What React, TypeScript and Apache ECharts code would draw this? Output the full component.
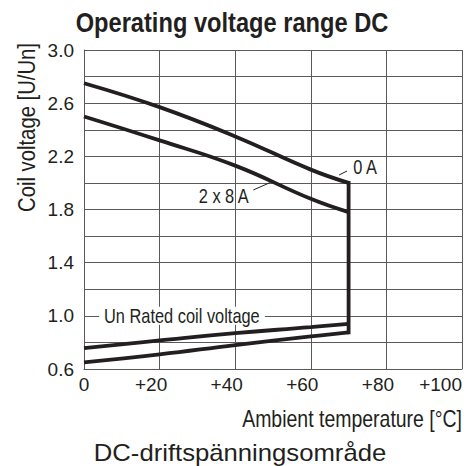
import React, { useEffect, useRef } from 'react';
import * as echarts from 'echarts';

// Ambient temperature [°C] sample points
const temperatures = [0, 20, 40, 60, 70];
// Upper limit of coil voltage, no load (0 A)
const upperLimit0A = [2.75, 2.57, 2.35, 2.1, 2.0];
// Upper limit of coil voltage, 2 x 8 A
const upperLimit2x8A = [2.5, 2.32, 2.13, 1.88, 1.78];
// Lower (pick-up) limits
const pickUpUpper = [0.757, 0.815, 0.87, 0.915, 0.94];
const pickUpLower = [0.65, 0.71, 0.78, 0.845, 0.875];
// Maximum ambient temperature (vertical limit)
const maxTemperature = 70;
// Tick labels
const xTicks = [0, 20, 40, 60, 80, 100];
const yTicks = [0.6, 1.0, 1.4, 1.8, 2.2, 2.6, 3.0];

const title = 'Operating voltage range DC';
const yName = 'Coil voltage [U/Un]';
const xName = 'Ambient temperature [°C]';
const caption = 'DC-driftspänningsområde';
const label0A = '0 A';
const label2x8A = '2 x 8 A';
const labelRated = 'Un Rated coil voltage';

const SANS = "'Liberation Sans', Arial, sans-serif";
const INK = '#231f20';
const GRID = '#5a5a5a';
const NARROW_SCALE = 0.82;

export default function App() {
  const ref = useRef<HTMLDivElement>(null);

  useEffect(() => {
    document.body.style.margin = '0';
    if (!ref.current) return;
    const chart = echarts.init(ref.current, null, { renderer: 'svg' });

    const curve = { type: 'line', symbol: 'none', smooth: 0.45, z: 5 };
    const stroke = { color: INK, width: 3.8 };

    chart.setOption({
      animation: false,
      backgroundColor: '#fff',
      grid: { left: 84, right: 7, top: 50, bottom: 97 },
      xAxis: {
        type: 'value',
        min: xTicks[0],
        max: xTicks[xTicks.length - 1],
        interval: 20,
        axisLine: { show: true, lineStyle: { color: GRID, width: 1 } },
        axisTick: { show: false },
        splitLine: { show: true, lineStyle: { color: GRID, width: 1 } },
        axisLabel: {
          margin: 6,
          alignMinLabel: 'center',
          alignMaxLabel: 'right',
          formatter: (v: number) => {
            if (!xTicks.includes(v)) return '';
            if (v === 0) return '{t|0}';
            if (v === xTicks[xTicks.length - 1]) return `{t|+${v}}`;
            return `{t|+${v}}{s|\u00a0}`;
          },
          rich: {
            t: { fontSize: 19, fontFamily: SANS, color: INK },
            s: { width: 17, fontSize: 19 },
          },
        },
      },
      yAxis: {
        type: 'value',
        min: 0.6,
        max: 3.0,
        interval: 0.2,
        axisLine: { show: true, lineStyle: { color: GRID, width: 1 } },
        axisTick: { show: false },
        splitLine: { show: true, lineStyle: { color: GRID, width: 1 } },
        axisLabel: {
          margin: 10,
          fontSize: 19,
          fontFamily: SANS,
          color: INK,
          formatter: (v: number) => {
            const r = Math.round(v * 10);
            return yTicks.some((t) => Math.round(t * 10) === r) ? v.toFixed(1) : '';
          },
        },
      },
      series: [
        {
          ...curve,
          name: '0 A',
          data: temperatures.map((t, i) => [t, upperLimit0A[i]]),
          lineStyle: stroke,
        },
        {
          type: 'line',
          name: 'limit',
          symbol: 'none',
          z: 6,
          data: [
            [maxTemperature, upperLimit0A[upperLimit0A.length - 1]],
            [maxTemperature, pickUpLower[pickUpLower.length - 1]],
          ],
          lineStyle: { ...stroke, cap: 'square' },
        },
        {
          ...curve,
          name: '2 x 8 A',
          data: temperatures.map((t, i) => [t, upperLimit2x8A[i]]),
          lineStyle: stroke,
        },
        {
          ...curve,
          name: 'pick-up upper',
          data: temperatures.map((t, i) => [t, pickUpUpper[i]]),
          lineStyle: stroke,
        },
        {
          ...curve,
          name: 'pick-up lower',
          data: temperatures.map((t, i) => [t, pickUpLower[i]]),
          lineStyle: stroke,
        },
      ],
    });

    const px = (x: number, y: number) => chart.convertToPixel({ gridIndex: 0 }, [x, y]) as number[];
    const a1 = px(67.5, 2.06);
    const a2 = px(69.6, 2.09);
    const t0 = px(71.2, 2.12);
    const b1 = px(44.8, 1.947);
    const b2 = px(49.2, 2.002);
    const t8 = px(43.6, 1.9);
    const tr = px(4.0, 1.0);

    const txt = (text: string, x: number, y: number, extra: any = {}, scaleX = NARROW_SCALE) => ({
      type: 'text',
      x,
      y,
      scaleX,
      z: 100,
      style: {
        text,
        fontSize: 20,
        fontFamily: SANS,
        fill: INK,
        align: 'left',
        verticalAlign: 'middle',
        ...extra,
      },
    });

    chart.setOption({
      graphic: [
        txt(title, 232, 22, { fontSize: 27, fontWeight: 'bold', align: 'center' }, 0.876),
        {
          type: 'text',
          x: 27,
          y: 127.5,
          rotation: Math.PI / 2,
          scaleX: 0.845,
          z: 100,
          style: {
            text: yName,
            fontSize: 24,
            fontFamily: SANS,
            fill: INK,
            align: 'center',
            verticalAlign: 'middle',
          },
        },
        txt(xName, 462, 419, { fontSize: 23, align: 'right' }, 0.847),
        txt(caption, 240, 453, { fontSize: 24, align: 'center' }, 1.07),
        { type: 'line', z: 100, shape: { x1: a1[0], y1: a1[1], x2: a2[0], y2: a2[1] }, style: { stroke: INK, lineWidth: 1 } },
        txt(label0A, t0[0], t0[1]),
        { type: 'line', z: 100, shape: { x1: b1[0], y1: b1[1], x2: b2[0], y2: b2[1] }, style: { stroke: INK, lineWidth: 1 } },
        txt(label2x8A, t8[0], t8[1], { align: 'right' }),
        txt(labelRated, tr[0], tr[1], { backgroundColor: '#fff', padding: [0, 6], lineHeight: 18 }),
      ],
    });

    return () => chart.dispose();
  }, []);

  return <div ref={ref} style={{ width: 469, height: 466 }} />;
}
